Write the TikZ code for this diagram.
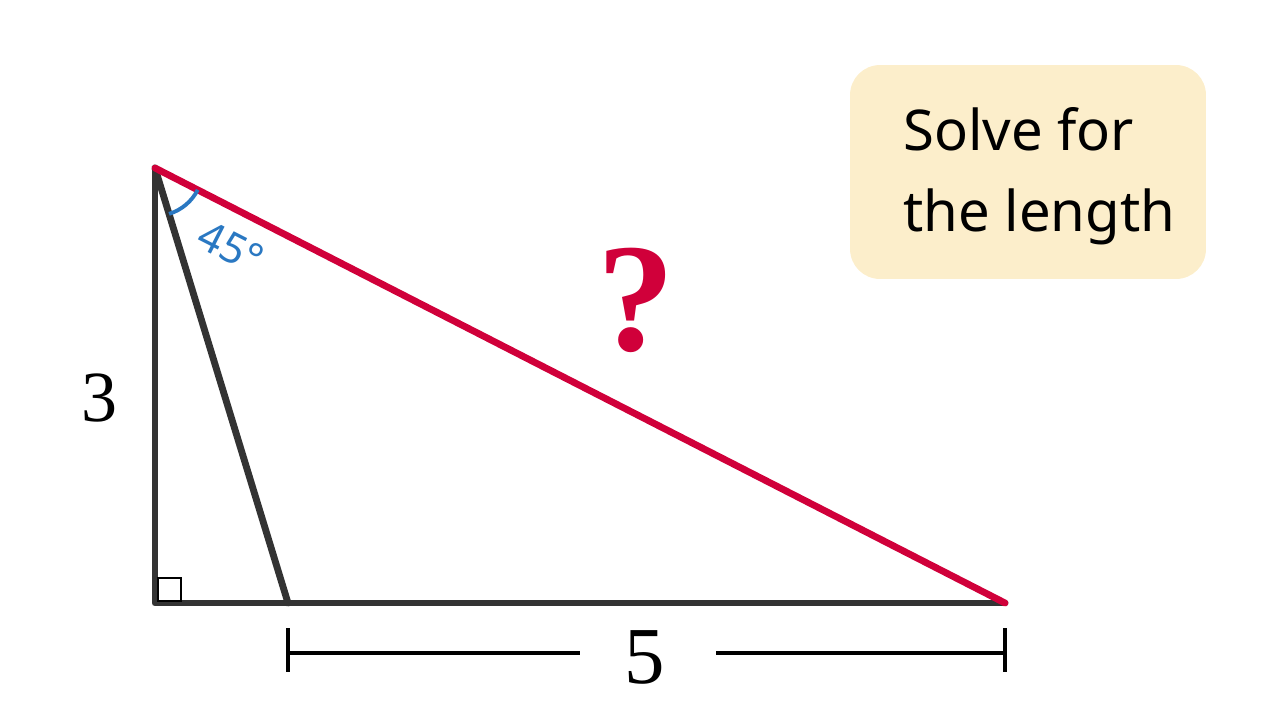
\documentclass[tikz,border=0pt]{standalone}
\usepackage{fontspec}
\newfontfamily\labelfont{Noto Sans}
\newfontfamily\numfont{Liberation Serif}
\usetikzlibrary{angles}
\definecolor{edgegray}{HTML}{333333}
\definecolor{hypred}{HTML}{D0003A}
\definecolor{anglblue}{HTML}{2A78C2}
\definecolor{notefill}{HTML}{FCEECB}
\begin{document}
\begin{tikzpicture}[x=0.02cm,y=-0.02cm,
  side/.style={draw=edgegray,line width=3.9pt,line cap=round,line join=round},
  hyp/.style={draw=hypred,line width=3.9pt,line cap=round},
  dimline/.style={draw=black,line width=2.4pt}]
  \useasboundingbox (0,0) rectangle (1280,720);
  % corners of the triangle
  \coordinate (A) at (155,168);
  \coordinate (B) at (155,603);
  \coordinate (D) at (288,603);
  \coordinate (C) at (1005,603);
  \draw[side] (A) -- (B) -- (C);
  \draw[side] (A) -- (D);
  \draw[hyp] (A) -- (C);
  \draw[black,line width=1pt] (158,578) rectangle (181,601);
  \pic[draw=anglblue,line width=2.2pt,angle radius=0.96cm] {angle=D--A--C};
  \node[anglblue,rotate=-27,font=\labelfont\fontsize{24}{28}\selectfont] (ang) at (231,247) {45°};
  % labels
  \node[font=\numfont\fontsize{41}{48}\selectfont] (left) at (100,398) {3};
  \node[hypred,font=\numfont\bfseries\fontsize{88}{96}\selectfont] (qm) at (636,300) {?};
  % dimension of 5
  \coordinate (dl) at (288,653);
  \coordinate (dr) at (1005,653);
  \node[font=\numfont\fontsize{46}{54}\selectfont] (base) at (645,657) {5};
  \draw[dimline] (dl) -- (580,653);
  \draw[dimline] (716,653) -- (dr);
  \draw[dimline] (288,628) -- (288,672);
  \draw[dimline] (1005,628) -- (1005,672);
  % note box
  \node[fill=notefill,rounded corners=0.6cm,minimum width=7.12cm,minimum height=4.28cm] (note) at (1028,172) {};
  \node[anchor=west,align=left,inner sep=0pt,font=\labelfont\fontsize{32}{46}\selectfont] (task) at (903,176)
    {Solve for\\the length};
\end{tikzpicture}
\end{document}
